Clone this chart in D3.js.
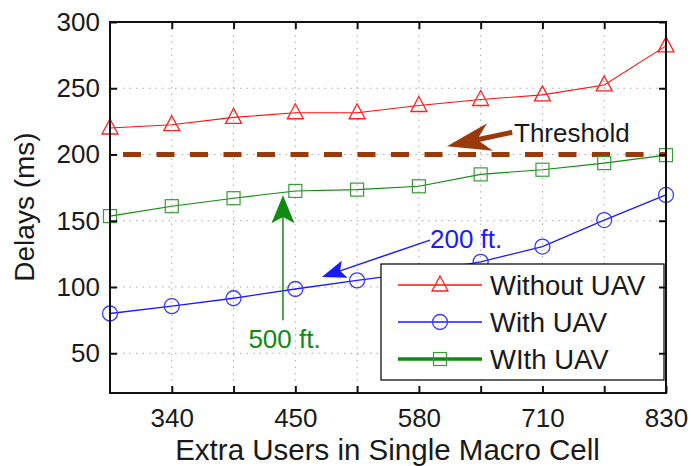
<!DOCTYPE html>
<html>
<head>
<meta charset="utf-8">
<script src="https://cdn.jsdelivr.net/npm/d3@7"></script>
<style>
  html, body { margin: 0; padding: 0; background: #fff; }
  svg { display: block; font-family: "Liberation Sans", Arial, sans-serif; }
</style>
</head>
<body>
<svg id="chart" width="691" height="466"></svg>
<script>
// === Data ===
const xLabels    = ['', '340', '', '450', '', '580', '', '710', '', '830'];
const withoutUAV = [220, 222.5, 228, 231.5, 231.5, 237, 241.5, 245, 252.5, 282];
const withUAV200 = [80, 85.5, 91.5, 98.5, 105, 111, 119, 130.5, 150.5, 169.5];
const withUAV500 = [153.5, 161, 167, 172.5, 173.5, 176, 185, 188.5, 193.5, 199.5];
const yTicks     = [50, 100, 150, 200, 250, 300];
const threshold  = 200;
const legendNames = ['Without UAV', 'With UAV', 'WIth UAV'];

const svg = d3.select('#chart');
const m = { left: 110, right: 666, top: 22, bottom: 393 };

const x = d3.scaleLinear().domain([0, xLabels.length - 1]).range([m.left, m.right]);
const y = d3.scaleLinear().domain([20, 300]).range([m.bottom, m.top]);
const idx = xLabels.map((_, i) => i);

// === grid ===
const grid = svg.append('g').attr('stroke', '#aaa').attr('stroke-width', 1)
  .attr('stroke-dasharray', '1.5,5');
grid.selectAll('.gx').data(idx.slice(1, -1)).enter().append('line')
  .attr('x1', d => x(d)).attr('x2', d => x(d))
  .attr('y1', m.top).attr('y2', m.bottom);
grid.selectAll('.gy').data(yTicks.slice(0, -1)).enter().append('line')
  .attr('x1', m.left).attr('x2', m.right)
  .attr('y1', d => y(d)).attr('y2', d => y(d));

// === threshold ===
svg.append('line')
  .attr('x1', m.left).attr('x2', m.right)
  .attr('y1', y(threshold)).attr('y2', y(threshold))
  .attr('stroke', '#9a3a0c').attr('stroke-width', 5)
  .attr('stroke-dasharray', '18,15.5').attr('stroke-dashoffset', 20.5);

// === series ===
const series = [
  { vals: withoutUAV, color: '#ff1010', mcolor: '#ff2020', shape: 'tri', w: 1.1 },
  { vals: withUAV200, color: '#1a1aff', mcolor: '#3a3aff', shape: 'circ', w: 1.3 },
  { vals: withUAV500, color: '#108a10', mcolor: '#3a9a3a', shape: 'sq', w: 1.1 },
];
const line = d3.line().x((_, i) => x(i)).y(d => y(d));

function marker(g, shape, cx, cy, color) {
  if (shape === 'tri') {
    g.append('path')
      .attr('d', `M${cx},${cy - 9}L${cx + 8},${cy + 6}L${cx - 8},${cy + 6}Z`)
      .attr('fill', 'none').attr('stroke', color).attr('stroke-width', 1.3);
  } else if (shape === 'circ') {
    g.append('circle').attr('cx', cx).attr('cy', cy).attr('r', 7.5)
      .attr('fill', 'none').attr('stroke', color).attr('stroke-width', 1.3);
  } else {
    g.append('rect').attr('x', cx - 6.5).attr('y', cy - 6.5)
      .attr('width', 13).attr('height', 13)
      .attr('fill', 'none').attr('stroke', color).attr('stroke-width', 1.2);
  }
}

series.forEach(s => {
  svg.append('path').datum(s.vals).attr('d', line)
    .attr('fill', 'none').attr('stroke', s.color).attr('stroke-width', s.w);
  const g = svg.append('g');
  s.vals.forEach((v, i) => marker(g, s.shape, x(i), y(v), s.mcolor));
});

// === annotations ===
function arrow(x1, y1, x2, y2, color, shaftW, L, W, notch) {
  const dx = x2 - x1, dy = y2 - y1, len = Math.hypot(dx, dy);
  const ux = dx / len, uy = dy / len, nx = -uy, ny = ux;
  const bx = x2 - L * ux, by = y2 - L * uy;
  const kx = x2 - L * notch * ux, ky = y2 - L * notch * uy;
  svg.append('line').attr('x1', x1).attr('y1', y1).attr('x2', kx).attr('y2', ky)
    .attr('stroke', color).attr('stroke-width', shaftW);
  svg.append('path')
    .attr('d', `M${x2},${y2}L${bx + nx * W / 2},${by + ny * W / 2}L${kx},${ky}L${bx - nx * W / 2},${by - ny * W / 2}Z`)
    .attr('fill', color);
}

arrow(x(6.51), y(216.8), x(5.455), y(206.3), '#9a3a0c', 5, 44, 28, 0.7);
svg.append('text').attr('x', x(6.54)).attr('y', y(209.5))
  .attr('font-size', 26).attr('fill', '#1a1a1a').text('Threshold');

arrow(x(5.18), y(135.4), x(3.43), y(107.5), '#1a1aff', 1.5, 24, 18, 0.8);
svg.append('text').attr('x', x(5.18)).attr('y', y(129.3))
  .attr('font-size', 26).attr('fill', '#1a1aff').text('200 ft.');

arrow(x(2.8), y(75), x(2.8), y(169.3), '#108a10', 1.5, 28, 23, 0.78);
svg.append('text').attr('x', x(2.825)).attr('y', y(54))
  .attr('text-anchor', 'middle')
  .attr('font-size', 26).attr('fill', '#108a10').text('500 ft.');

// === legend ===
const lg = svg.append('g');
lg.append('rect').attr('x', 381).attr('y', 264).attr('width', 283).attr('height', 116)
  .attr('fill', '#fff').attr('stroke', '#111').attr('stroke-width', 1.3);
legendNames.forEach((name, i) => {
  const s = series[i];
  const ly = 285 + i * 37;
  lg.append('line').attr('x1', 398).attr('x2', 482).attr('y1', ly).attr('y2', ly)
    .attr('stroke', s.color).attr('stroke-width', i === 2 ? 3.5 : 1.5);
  marker(lg, s.shape, 440, ly, s.mcolor);
  lg.append('text').attr('x', 490).attr('y', ly).attr('dy', '0.36em')
    .attr('font-size', 27.5).attr('fill', '#1a1a1a').text(name);
});

// === axes (MATLAB box with inward ticks) ===
const tickLen = 7;
const axB = d3.axisBottom(x).tickValues(idx.slice(1)).tickSize(-tickLen).tickPadding(16)
  .tickFormat(i => xLabels[i]);
const axT = d3.axisTop(x).tickValues(idx.slice(1, -1)).tickSize(-tickLen).tickFormat('');
const axL = d3.axisLeft(y).tickValues(yTicks).tickSize(-tickLen).tickPadding(10);
const axR = d3.axisRight(y).tickValues(yTicks).tickSize(-tickLen).tickFormat('');

function style(g) {
  g.select('.domain').remove();
  g.selectAll('.tick line').attr('stroke', '#111').attr('stroke-width', 2);
  g.selectAll('.tick text').attr('font-size', 26).attr('fill', '#1a1a1a')
    .attr('font-family', '"Liberation Sans", Arial, sans-serif');
}
svg.append('g').attr('transform', `translate(0,${m.bottom})`).call(axB).call(style);
svg.append('g').attr('transform', `translate(0,${m.top})`).call(axT).call(style);
svg.append('g').attr('transform', `translate(${m.left},0)`).call(axL).call(style);
svg.append('g').attr('transform', `translate(${m.right},0)`).call(axR).call(style);

svg.append('rect').attr('x', m.left).attr('y', m.top)
  .attr('width', m.right - m.left).attr('height', m.bottom - m.top)
  .attr('fill', 'none').attr('stroke', '#111').attr('stroke-width', 2);

// === axis titles ===
svg.append('text').attr('x', (m.left + m.right) / 2 - 0.5).attr('y', 460)
  .attr('text-anchor', 'middle').attr('font-size', 29.5).attr('fill', '#1a1a1a')
  .text('Extra Users in Single Macro Cell');
svg.append('text').attr('transform', 'translate(34,207) rotate(-90)')
  .attr('text-anchor', 'middle').attr('font-size', 28).attr('fill', '#1a1a1a')
  .text('Delays (ms)');
</script>
</body>
</html>
